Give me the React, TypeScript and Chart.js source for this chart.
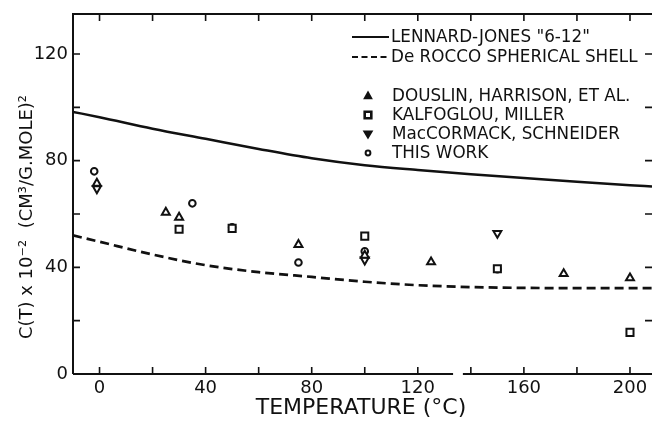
import React, { useEffect, useRef } from 'react';
import { Chart, registerables } from 'chart.js';

Chart.register(...registerables);

// ---- data ----
const curveTemps = [-10, 0, 20, 40, 60, 80, 100, 120, 140, 160, 180, 200, 208.3];
const lennardJones = [98.3, 96.3, 92.0, 88.2, 84.4, 80.9, 78.3, 76.5, 74.9, 73.5, 72.1, 70.8, 70.3];
const deRocco = [52.0, 49.6, 44.8, 40.8, 38.2, 36.4, 34.6, 33.3, 32.6, 32.3, 32.2, 32.2, 32.2];

const douslinT = [-1, 25, 30, 75, 100, 125, 175, 200];
const douslinC = [71.5, 60.6, 58.7, 48.5, 44.5, 42.0, 37.6, 36.0];
const kalfoglouT = [30, 50, 100, 150, 200];
const kalfoglouC = [54.3, 54.6, 51.7, 39.5, 15.6];
const maccormackT = [-1, 100, 150];
const maccormackC = [69.5, 42.8, 52.8];
const thisWorkT = [-2, 35, 50, 75, 100, 150];
const thisWorkC = [76.0, 64.0, 55.0, 41.8, 46.0, 39.3];

const xTickLabels = [0, 40, 80, 120, 160, 200];
const yTickLabels = [0, 40, 80, 120];
const axisBreak = [133.3, 137.0];

const lineLabels = ['LENNARD-JONES "6-12"', 'De ROCCO SPHERICAL SHELL'];
const markerLabels = ['DOUSLIN, HARRISON, ET AL.', 'KALFOGLOU, MILLER', 'MacCORMACK, SCHNEIDER', 'THIS WORK'];
const xTitle = 'TEMPERATURE (°C)';
const yTitle = 'C(T) x 10⁻²  (CM³/G.MOLE)²';

const INK = '#111';
const FONT = '"DejaVu Sans", sans-serif';

const pts = (xs: number[], ys: number[]) => xs.map((x, i) => ({ x, y: ys[i] }));

function drawMarker(ctx: CanvasRenderingContext2D, kind: string, x: number, y: number) {
  ctx.save();
  ctx.strokeStyle = INK;
  ctx.fillStyle = INK;
  ctx.lineWidth = 2;
  ctx.beginPath();
  if (kind === 'up') {
    ctx.moveTo(x, y - 3.5); ctx.lineTo(x + 3.2, y + 2.3); ctx.lineTo(x - 3.2, y + 2.3); ctx.closePath();
    ctx.fill(); ctx.stroke();
  } else if (kind === 'down') {
    ctx.moveTo(x, y + 3.5); ctx.lineTo(x + 3.6, y - 2.5); ctx.lineTo(x - 3.6, y - 2.5); ctx.closePath();
    ctx.fill(); ctx.stroke();
  } else if (kind === 'square') {
    ctx.lineWidth = 2.6;
    ctx.rect(x - 3.3, y - 3.3, 6.6, 6.6);
    ctx.stroke();
  } else {
    ctx.arc(x, y, 2.4, 0, Math.PI * 2);
    ctx.stroke();
  }
  ctx.restore();
}

const decorPlugin = {
  id: 'decor',
  afterDraw(chart: any) {
    const { ctx, chartArea: a, scales } = chart;
    const xs = scales.x;
    const ys = scales.y;
    ctx.save();
    ctx.strokeStyle = INK;
    ctx.lineWidth = 2;
    ctx.beginPath();
    ctx.moveTo(a.left, a.bottom);
    ctx.lineTo(a.left, a.top);
    ctx.lineTo(a.right, a.top);
    const b1 = xs.getPixelForValue(axisBreak[0]);
    const b2 = xs.getPixelForValue(axisBreak[1]);
    ctx.moveTo(a.left, a.bottom);
    ctx.lineTo(b1, a.bottom);
    ctx.moveTo(b2, a.bottom);
    ctx.lineTo(a.right, a.bottom);
    ctx.stroke();

    // inward ticks
    ctx.lineWidth = 1.6;
    ctx.beginPath();
    xs.ticks.forEach((t: any) => {
      const px = xs.getPixelForValue(t.value);
      if (px < a.left + 2 || px > a.right - 2) return;
      ctx.moveTo(px, a.bottom);
      ctx.lineTo(px, a.bottom - 7);
      ctx.moveTo(px, a.top);
      ctx.lineTo(px, a.top + 7);
    });
    ys.ticks.forEach((t: any) => {
      const py = ys.getPixelForValue(t.value);
      if (py < a.top + 2 || py > a.bottom - 2) return;
      ctx.moveTo(a.left, py);
      ctx.lineTo(a.left + 7, py);
      ctx.moveTo(a.right, py);
      ctx.lineTo(a.right - 7, py);
    });
    ctx.stroke();

    // axis titles
    ctx.fillStyle = INK;
    ctx.textAlign = 'center';
    ctx.textBaseline = 'middle';
    ctx.font = `22px ${FONT}`;
    ctx.fillText(xTitle, 361, 408);
    ctx.save();
    ctx.translate(27, 217);
    ctx.rotate(-Math.PI / 2);
    ctx.font = `18px ${FONT}`;
    ctx.fillText(yTitle, 0, 0);
    ctx.restore();

    // legend
    ctx.font = `16.8px ${FONT}`;
    ctx.textAlign = 'left';
    ctx.lineWidth = 2;
    const lineY = [37, 57];
    lineLabels.forEach((lab, i) => {
      ctx.beginPath();
      ctx.setLineDash(i === 0 ? [] : [6, 3.5]);
      ctx.moveTo(352, lineY[i]);
      ctx.lineTo(389, lineY[i]);
      ctx.stroke();
      ctx.setLineDash([]);
      ctx.fillText(lab, 391, lineY[i] + 1);
    });
    const kinds = ['up', 'square', 'down', 'circle'];
    const mY = [96, 115, 134, 153];
    markerLabels.forEach((lab, i) => {
      drawMarker(ctx, kinds[i], 368, mY[i]);
      ctx.fillText(lab, 392, mY[i] + 1);
    });
    ctx.restore();
  },
};

export default function App() {
  const ref = useRef<HTMLCanvasElement>(null);
  useEffect(() => {
    if (!ref.current) return;
    const lineBase = {
      type: 'line' as const,
      showLine: true,
      pointRadius: 0,
      borderColor: INK,
      borderWidth: 2.5,
      cubicInterpolationMode: 'monotone' as const,
      fill: false,
    };
    const markerBase = {
      type: 'scatter' as const,
      borderColor: INK,
      backgroundColor: '#fff',
      borderWidth: 2,
      showLine: false,
    };
    const chart = new Chart(ref.current, {
      type: 'scatter',
      data: {
        datasets: [
          { ...lineBase, label: lineLabels[0], data: pts(curveTemps, lennardJones) },
          { ...lineBase, label: lineLabels[1], data: pts(curveTemps, deRocco), borderDash: [9, 5], borderWidth: 2.7 },
          { ...markerBase, label: markerLabels[0], data: pts(douslinT, douslinC), pointStyle: 'triangle', pointRadius: 4.6 },
          { ...markerBase, label: markerLabels[1], data: pts(kalfoglouT, kalfoglouC), pointStyle: 'rect', pointRadius: 5 },
          { ...markerBase, label: markerLabels[2], data: pts(maccormackT, maccormackC), pointStyle: 'triangle', pointRotation: 180, pointRadius: 4.6 },
          { ...markerBase, label: markerLabels[3], data: pts(thisWorkT, thisWorkC), pointStyle: 'circle', pointRadius: 3.3 },
        ] as any,
      },
      options: {
        animation: false,
        responsive: false,
        devicePixelRatio: 1,
        layout: { padding: { top: 14, right: 0, left: 0, bottom: 0 } },
        plugins: { legend: { display: false }, tooltip: { enabled: false } },
        scales: {
          x: {
            type: 'linear',
            min: -10,
            max: 208.3,
            border: { display: false },
            grid: { display: false, drawTicks: false },
            ticks: {
              stepSize: 20,
              includeBounds: false,
              padding: 4,
              color: INK,
              font: { family: FONT, size: 18 },
              maxRotation: 0,
              autoSkip: false,
              callback: (v: any) => (xTickLabels.includes(Number(v)) ? String(v) : ''),
            },
            afterFit: (s: any) => {
              s.height = 50;
              s.paddingLeft = 0;
              s.paddingRight = 0;
            },
          },
          y: {
            type: 'linear',
            min: 0,
            max: 135,
            border: { display: false },
            grid: { display: false, drawTicks: false },
            ticks: {
              stepSize: 20,
              includeBounds: false,
              padding: 5,
              color: INK,
              font: { family: FONT, size: 18 },
              autoSkip: false,
              callback: (v: any) => (yTickLabels.includes(Number(v)) ? String(v) : ''),
            },
            afterFit: (s: any) => {
              s.width = 73;
              s.paddingTop = 0;
              s.paddingBottom = 0;
            },
          },
        },
      } as any,
      plugins: [decorPlugin],
    });
    return () => chart.destroy();
  }, []);
  return (
    <div style={{ position: 'fixed', left: 0, top: 0, width: 652, height: 424, overflow: 'hidden', background: '#fff' }}>
      <canvas ref={ref} width={659} height={424} style={{ display: 'block', width: 659, height: 424 }} />
    </div>
  );
}
